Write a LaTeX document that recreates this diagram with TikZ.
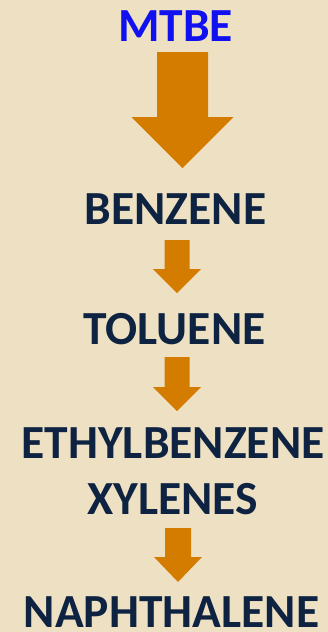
\documentclass[tikz,border=0pt]{standalone}
\usepackage{fontspec}
\setmainfont{Carlito}
\definecolor{paper}{HTML}{EEE1C3}
\definecolor{ink}{HTML}{0E2341}
\definecolor{mtbeblue}{HTML}{1010F0}
\definecolor{flow}{HTML}{D47C00}
\tikzset{
  label/.style={anchor=base, inner sep=0pt, text depth=0pt, text=ink,
    font=\fontsize{47.5}{47.5}\selectfont\bfseries},
  flowarrow/.style={fill=flow, draw=none}
}
% block arrow: centre x, top y, shaft end y, tip y, shaft half width, head half width
\newcommand\blockarrow[6]{%
  \fill[flowarrow] (#1-#5,#2) -- (#1+#5,#2) -- (#1+#5,#3) -- (#1+#6,#3)
    -- (#1,#4) -- (#1-#6,#3) -- (#1-#5,#3) -- cycle;}
\begin{document}
\begin{tikzpicture}[x=1pt,y=-1pt]
  \fill[paper] (0,0) rectangle (328,632);
  \useasboundingbox (0,0) rectangle (328,632);
  \node[label, text=mtbeblue] (mtbe) at (175.5,41) {MTBE};
  \node[label] (benzene) at (175.5,224) {BENZENE};
  \node[label] (toluene) at (174.5,344) {TOLUENE};
  \node[label] (ethyl) at (173,458) {ETHYLBENZENE};
  \node[label] (xyl) at (172.5,514) {XYLENES};
  \node[label] (naph) at (171.5,627) {NAPHTHALENE};
  \blockarrow{182.5}{52}{117}{168}{25.5}{51}
  \blockarrow{177}{240}{269}{293}{12.5}{24}
  \blockarrow{177}{357}{387}{411}{12.5}{24}
  \blockarrow{178}{528}{557}{582}{13}{24}
\end{tikzpicture}
\end{document}
